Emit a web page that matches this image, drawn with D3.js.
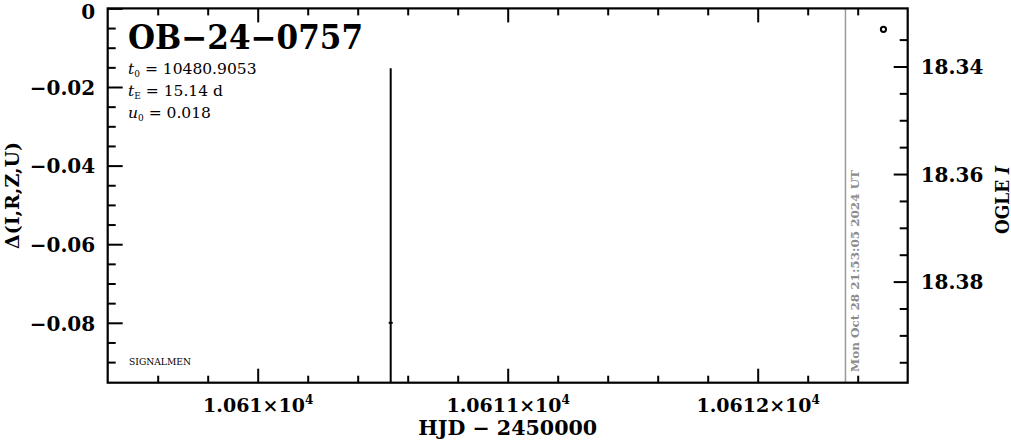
<!DOCTYPE html>
<html>
<head>
<meta charset="utf-8">
<script src="https://cdn.jsdelivr.net/npm/d3@7"></script>
<style>
  html, body { margin: 0; padding: 0; background: #fff; }
  svg { display: block; }
  text { font-family: "DejaVu Serif", "Liberation Serif", serif; fill: #000; }
</style>
</head>
<body>
<svg id="chart" width="1011" height="440"></svg>
<script>
// ---- data ----
const eventName = "OB\u221224\u22120757";
const paramT0 = "10480.9053";
const paramTE = "15.14 d";
const paramU0 = "0.018";
const xMajorTicks = [10610, 10611, 10612];
const xMinorTicks = [10609.6, 10609.8, 10610.2, 10610.4, 10610.6, 10610.8, 10611.2, 10611.4, 10611.6, 10611.8, 10612.2, 10612.4];
const leftMajorTicks = [0, -0.02, -0.04, -0.06, -0.08];
const leftMinorTicks = [-0.005, -0.01, -0.015, -0.025, -0.03, -0.035, -0.045, -0.05, -0.055, -0.065, -0.07, -0.075, -0.085, -0.09];
const rightMajorTicks = [18.34, 18.36, 18.38];
const rightMinorTicks = [18.335, 18.345, 18.35, 18.355, 18.365, 18.37, 18.375, 18.385, 18.39, 18.395];
const signalmenHjd = [10610.532];
const signalmenDelta = [-0.08];
const signalmenErr = [0.0648];
const ogleHjd = [10612.503];
const ogleMag = [18.3331];
const nowHjd = 10612.351;
const nowLabel = "Mon Oct 28 21:53:05 2024 UT";
const xDomain = [10609.4, 10612.6];
const leftDomain = [-0.09524, 0];
const rightDomain = [18.3292, 18.3988];

// ---- layout ----
const L = 107.7, R = 907.7, T = 8.4, B = 382.7;
const svg = d3.select("#chart");

const x = d3.scaleLinear().domain(xDomain).range([L, R]);
const yL = d3.scaleLinear().domain(leftDomain).range([B, T]);
const yR = d3.scaleLinear().domain(rightDomain).range([T, B]);

svg.append("defs").append("clipPath").attr("id", "clip")
  .append("rect").attr("x", L).attr("y", T).attr("width", R - L).attr("height", B - T);

// now line
svg.append("line")
  .attr("x1", x(nowHjd)).attr("x2", x(nowHjd))
  .attr("y1", T).attr("y2", B)
  .attr("stroke", "#999").attr("stroke-width", 1.5);

svg.append("text")
  .attr("transform", `translate(${x(nowHjd) + 13.5},${271}) rotate(-90)`)
  .attr("text-anchor", "middle")
  .attr("font-size", 11.5)
  .attr("font-weight", "bold")
  .attr("textLength", 202)
  .attr("lengthAdjust", "spacingAndGlyphs")
  .style("fill", "#8c8c8c")
  .text(nowLabel);

// data: SIGNALMEN error bars
const gData = svg.append("g").attr("clip-path", "url(#clip)");
signalmenHjd.forEach((h, i) => {
  gData.append("line")
    .attr("x1", x(h)).attr("x2", x(h))
    .attr("y1", yL(signalmenDelta[i] + signalmenErr[i]))
    .attr("y2", yL(signalmenDelta[i] - signalmenErr[i]))
    .attr("stroke", "#000").attr("stroke-width", 2);
  gData.append("rect")
    .attr("x", x(h) - 2).attr("y", yL(signalmenDelta[i]) - 1)
    .attr("width", 4).attr("height", 2).attr("fill", "#000");
});

// OGLE points
ogleHjd.forEach((h, i) => {
  gData.append("circle")
    .attr("cx", x(h)).attr("cy", yR(ogleMag[i]))
    .attr("r", 2.6)
    .attr("fill", "none").attr("stroke", "#000").attr("stroke-width", 2);
});

// axes
function styleAxis(g) {
  g.select(".domain").remove();
  g.selectAll(".tick line").attr("stroke", "#000").attr("stroke-width", 2);
}

const fmtLeft = d => d === 0 ? "0" : d3.format(".2f")(d);

// bottom
svg.append("g").attr("transform", `translate(0,${B})`)
  .call(d3.axisBottom(x).tickValues(xMinorTicks).tickSize(-7).tickFormat(""))
  .call(styleAxis);
const gBot = svg.append("g").attr("transform", `translate(0,${B})`)
  .call(d3.axisBottom(x).tickValues(xMajorTicks).tickSize(-14).tickPadding(14)
    .tickFormat(d => ""))
  .call(styleAxis);
gBot.selectAll(".tick text").each(function(d) {
  const t = d3.select(this).attr("font-size", 19).attr("font-family", null)
    .attr("font-weight", "bold").attr("y", 29.5).attr("dy", null);
  const mant = d3.format(".6~g")(d / 1e4);
  t.append("tspan").text(mant + "\u00d710");
  t.append("tspan").attr("font-size", 12).attr("dy", -8).text("4");
});

// top
svg.append("g").attr("transform", `translate(0,${T})`)
  .call(d3.axisTop(x).tickValues(xMinorTicks).tickSize(-7).tickFormat(""))
  .call(styleAxis);
svg.append("g").attr("transform", `translate(0,${T})`)
  .call(d3.axisTop(x).tickValues(xMajorTicks).tickSize(-14).tickFormat(""))
  .call(styleAxis);

// left
svg.append("g").attr("transform", `translate(${L},0)`)
  .call(d3.axisLeft(yL).tickValues(leftMinorTicks).tickSize(-8).tickFormat(""))
  .call(styleAxis);
const gLeft = svg.append("g").attr("transform", `translate(${L},0)`)
  .call(d3.axisLeft(yL).tickValues(leftMajorTicks).tickSize(-15).tickPadding(12.5).tickFormat(fmtLeft))
  .call(styleAxis);
gLeft.selectAll(".tick text").attr("font-size", 20).attr("font-family", null)
  .attr("font-weight", "bold").attr("dy", d => d === 0 ? "0.5em" : "0.36em");

// right
svg.append("g").attr("transform", `translate(${R},0)`)
  .call(d3.axisRight(yR).tickValues(rightMinorTicks).tickSize(-8).tickFormat(""))
  .call(styleAxis);
const gRight = svg.append("g").attr("transform", `translate(${R},0)`)
  .call(d3.axisRight(yR).tickValues(rightMajorTicks).tickSize(-14).tickPadding(13).tickFormat(d3.format(".2f")))
  .call(styleAxis);
gRight.selectAll(".tick text").attr("font-size", 20).attr("font-family", null)
  .attr("font-weight", "bold").attr("dy", "0.36em");

// frame
svg.append("rect")
  .attr("x", L).attr("y", T).attr("width", R - L).attr("height", B - T)
  .attr("fill", "none").attr("stroke", "#000").attr("stroke-width", 2.2);

// title & params
svg.append("text").attr("x", 128).attr("y", 49)
  .attr("font-size", 33).attr("font-weight", "bold")
  .attr("textLength", 235).attr("lengthAdjust", "spacingAndGlyphs")
  .text(eventName);

function param(y, sym, sub, val) {
  const t = svg.append("text").attr("x", 128).attr("y", y).attr("font-size", 15.5);
  t.append("tspan").attr("font-style", "italic").text(sym);
  t.append("tspan").attr("font-size", 9).attr("dy", 3).text(sub);
  t.append("tspan").attr("dy", -3).text(" = " + val);
}
param(74, "t", "0", paramT0);
param(95.5, "t", "E", paramTE);
param(118, "u", "0", paramU0);

svg.append("text").attr("x", 129).attr("y", 365)
  .attr("font-size", 9.5).attr("textLength", 62).attr("lengthAdjust", "spacingAndGlyphs")
  .text("SIGNALMEN");

// axis labels
svg.append("text").attr("x", (L + R) / 2).attr("y", 435)
  .attr("text-anchor", "middle").attr("font-size", 20).attr("font-weight", "bold")
  .attr("textLength", 179).attr("lengthAdjust", "spacingAndGlyphs")
  .text("HJD \u2212 2450000");

svg.append("text")
  .attr("transform", `translate(18.5,195.5) rotate(-90)`)
  .attr("text-anchor", "middle").attr("font-size", 19).attr("font-weight", "bold")
  .attr("textLength", 107).attr("lengthAdjust", "spacingAndGlyphs")
  .text("\u0394(I,R,Z,U)");

const rl = svg.append("text")
  .attr("transform", `translate(1008.5,200) rotate(-90)`)
  .attr("text-anchor", "middle").attr("font-size", 19).attr("font-weight", "bold")
  .attr("textLength", 68).attr("lengthAdjust", "spacingAndGlyphs");
rl.append("tspan").text("OGLE ");
rl.append("tspan").attr("font-style", "italic").text("I");
</script>
</body>
</html>
